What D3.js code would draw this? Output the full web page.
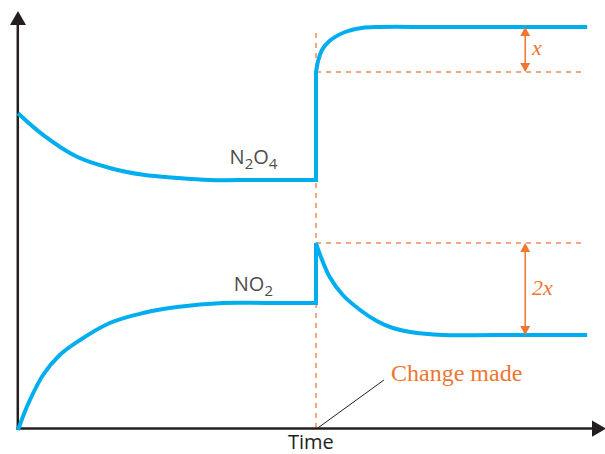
<!DOCTYPE html>
<html lang="en">
<head>
    <meta charset="UTF-8">
    <title>N2O4 / NO2 equilibrium</title>
    <script src="https://cdn.jsdelivr.net/npm/d3@7/dist/d3.min.js"></script>
    <style>
        body { margin: 0; background: #fff; }
        svg .axis-line { stroke: #231f20; stroke-width: 2.5; fill: none; }
        svg .conc-line { fill: none; stroke: #00aeef; stroke-width: 4; stroke-linejoin: miter; }
        svg .guide { stroke: #f28c55; stroke-width: 1.5; stroke-dasharray: 5,5; fill: none; }
        svg .measure { stroke: #ee7631; stroke-width: 1.5; }
        svg .species { font-family: "Open Sans", sans-serif; fill: #4d4d4d; font-size: 20px; }
    </style>
</head>
<body>
    <svg width="605" height="454"></svg>
    <script>
        // time runs 0..100, change made at t = 50
        var changeTime = 50;

        // concentrations (arbitrary units)
        var n2o4Before = [[0, 79.2], [4.2, 73.8], [9.9, 68.3], [15.4, 65.5], [21, 63.8], [26.7, 63], [32.2, 62.5], [40, 62.5], [50, 62.5]],
            n2o4After = [[50, 89.5], [50.4, 92.5], [51, 95], [52.3, 97.3], [54.9, 99.5], [57.7, 100.5], [60.7, 100.75], [70, 100.75], [95.5, 100.75]],
            no2Before = [[0, 0], [1, 4], [2, 7.5], [4.2, 13.75], [7, 18.75], [9.9, 22], [15.4, 26.75], [21, 29.25], [26.7, 30.75], [34.4, 31.75], [42, 31.75], [50, 31.75]],
            no2After = [[50, 46.75], [50.7, 43.75], [52.3, 38.25], [54.5, 33.75], [57.4, 30], [60.2, 27.25], [62.9, 25.5], [65.8, 24.5], [71.3, 23.75], [80, 23.75], [95.5, 23.75]];

        var labels = [
            {parts: ['N', '2', 'O', '4'], t: 35.5, c: 66.5},
            {parts: ['NO', '2'], t: 36.2, c: 34.8}
        ];

        var svg = d3.select('svg'),
            x = d3.scaleLinear().domain([0, 100]).range([18, 614]),
            y = d3.scaleLinear().domain([0, 100]).range([430, 30]);

        var curve = d3.line()
            .x(function(d) { return x(d[0]); })
            .y(function(d) { return y(d[1]); })
            .curve(d3.curveCatmullRom.alpha(0.5));

        // guides
        svg.append('line').classed('guide', true)
            .attr('x1', x(changeTime)).attr('x2', x(changeTime))
            .attr('y1', y(99.25)).attr('y2', 428);

        [n2o4After[0][1], no2After[0][1]].forEach(function(v) {
            svg.append('line').classed('guide', true)
                .attr('x1', x(changeTime)).attr('x2', x(94.6))
                .attr('y1', y(v)).attr('y2', y(v));
        });

        // axes with arrowheads
        svg.append('line').classed('axis-line', true)
            .attr('x1', 17.8).attr('y1', 429.7).attr('x2', 17.8).attr('y2', 20);
        svg.append('path').attr('fill', '#231f20')
            .attr('d', 'M18,11L26,25L10,25Z');
        svg.append('line').classed('axis-line', true)
            .attr('x1', 16.5).attr('y1', 428.6).attr('x2', 597).attr('y2', 428.6);
        svg.append('path').attr('fill', '#231f20')
            .attr('d', 'M606,428.6L592,420.5L592,436.7Z');

        // concentration curves, joined by the vertical jump
        function joined(a, b) {
            return curve(a) + curve(b).replace(/^M/, 'L');
        }
        svg.append('path').classed('conc-line', true).attr('d', joined(n2o4Before, n2o4After));
        svg.append('path').classed('conc-line', true).attr('d', joined(no2Before, no2After));

        // x and 2x measures
        function measure(t, top, bottom) {
            var xp = x(t), y1 = y(top), y2 = y(bottom);
            svg.append('line').classed('measure', true)
                .attr('x1', xp).attr('x2', xp).attr('y1', y1 + 8).attr('y2', y2 - 8);
            svg.append('path').attr('fill', '#ee7631')
                .attr('d', 'M' + xp + ',' + y1 + 'L' + (xp + 5) + ',' + (y1 + 9) + 'L' + (xp - 5) + ',' + (y1 + 9) + 'Z');
            svg.append('path').attr('fill', '#ee7631')
                .attr('d', 'M' + xp + ',' + y2 + 'L' + (xp + 5) + ',' + (y2 - 9) + 'L' + (xp - 5) + ',' + (y2 - 9) + 'Z');
        }
        measure(85.1, n2o4After[n2o4After.length - 1][1], n2o4After[0][1]);
        measure(85.1, no2After[0][1], no2After[no2After.length - 1][1]);

        svg.append('text')
            .attr('x', 532).attr('y', 55)
            .style('font-family', '"Liberation Serif", serif')
            .style('font-style', 'italic').style('font-size', '22px')
            .attr('fill', '#ee7631')
            .text('x');
        svg.append('text')
            .attr('x', 532).attr('y', 295)
            .style('font-family', '"Liberation Serif", serif')
            .style('font-style', 'italic').style('font-size', '22px')
            .attr('fill', '#ee7631')
            .text('2x');

        // species labels with subscripts
        labels.forEach(function(l) {
            var t = svg.append('text').classed('species', true)
                .attr('x', x(l.t)).attr('y', y(l.c));
            l.parts.forEach(function(p, i) {
                var sub = i % 2 === 1;
                t.append('tspan')
                    .attr('dy', sub ? 5 : (i === 0 ? 0 : -5))
                    .style('font-size', sub ? '15px' : '20px')
                    .text(p);
            });
        });

        // change made callout
        svg.append('line')
            .attr('x1', x(50.3)).attr('y1', 428)
            .attr('x2', x(61.4)).attr('y2', 380)
            .attr('stroke', '#231f20').attr('stroke-width', 1);
        svg.append('text')
            .attr('x', 391).attr('y', 381)
            .style('font-family', '"Liberation Serif", serif')
            .style('font-size', '24px')
            .attr('fill', '#ee7631')
            .text('Change made');

        svg.append('text')
            .attr('x', 288).attr('y', 449)
            .style('font-family', '"Open Sans", sans-serif')
            .style('font-size', '20px')
            .attr('fill', '#231f20')
            .text('Time');
    </script>
</body>
</html>
